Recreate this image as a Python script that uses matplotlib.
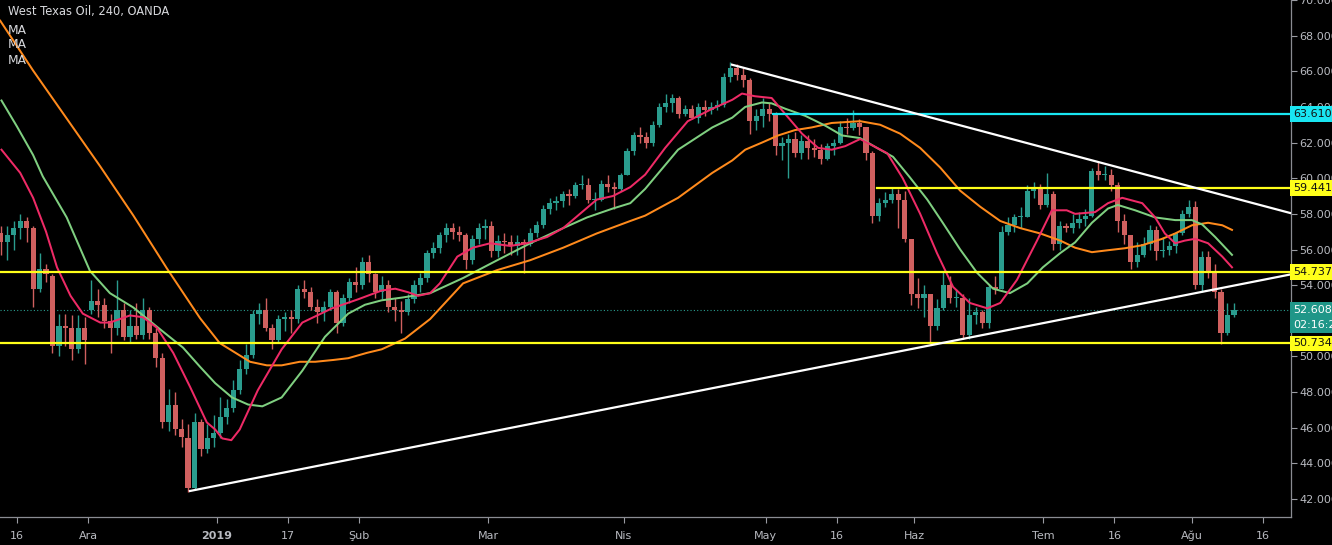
import matplotlib
matplotlib.use("Agg")
import matplotlib.pyplot as plt
import matplotlib.transforms as mtransforms
import numpy as np

# ---------------- data (daily, trading-day index; Nov 14 2018 = 0) ----------------
first_day = -1
opens = [56.9,56.4,56.8,57.2,57.6,57.2,53.8,54.9,54.5,50.6,51.7,51.6,50.4,51.6,
         52.6,53.1,52.9,52.0,51.6,52.6,51.1,51.7,51.2,52.6,51.3,49.9,46.3,47.3,45.9,
         45.4,42.6,46.3,44.8,45.4,45.7,46.6,47.1,48.1,49.3,50.1,52.4,52.6,51.6,50.9,
         52.1,52.2,52.1,53.8,53.6,52.8,52.5,52.8,53.6,51.9,53.3,54.2,54.0,55.3,54.6,
         53.6,54.0,52.8,52.6,52.5,53.2,54.0,54.4,55.8,56.1,56.8,57.2,57.0,56.8,55.4,
         56.6,57.2,57.3,55.9,56.5,56.4,56.2,56.4,56.3,56.9,57.4,58.3,58.6,58.7,59.1,
         59.0,59.6,59.6,58.8,58.8,59.7,59.5,59.4,60.2,61.5,62.4,62.3,62.0,63.0,64.0,
         64.2,64.5,63.6,63.9,63.4,64.0,63.8,64.0,64.1,65.7,66.2,65.8,65.5,63.2,63.5,
         63.9,63.6,61.8,62.0,62.2,61.4,62.1,61.7,61.6,61.1,61.8,62.0,62.9,62.8,63.1,
         62.9,61.4,57.9,58.6,58.8,59.1,58.8,56.6,53.5,53.3,53.5,51.7,52.7,54.0,53.3,
         53.3,51.2,52.3,52.5,51.9,53.9,53.8,57.0,57.4,57.8,57.8,59.3,59.4,58.5,59.1,
         56.3,57.3,57.2,57.5,57.7,57.9,60.4,60.2,60.2,59.6,57.6,56.8,55.3,55.7,56.3,
         57.1,55.9,56.0,56.2,56.9,58.0,58.4,54.0,55.6,54.7,53.6,51.3,52.3]
highs = [57.3,57.3,57.6,58.0,57.8,57.3,55.8,55.2,54.6,52.4,52.4,52.3,52.3,52.2,
         54.3,53.8,53.3,52.4,54.3,53.0,52.6,53.0,53.3,52.8,51.6,50.2,48.2,48.0,46.5,
         46.2,46.8,46.5,46.2,46.7,47.7,47.6,48.7,49.8,50.7,52.6,53.0,53.3,51.8,52.3,
         52.5,52.6,54.0,54.3,53.9,53.2,53.1,53.8,53.7,53.5,54.4,55.0,55.6,55.7,54.7,
         54.5,54.3,53.3,53.1,53.5,54.3,54.7,56.0,56.4,57.0,57.5,57.5,57.3,56.9,56.8,
         57.5,57.7,57.6,56.8,56.9,56.8,56.8,56.6,57.2,57.6,58.5,58.9,59.0,59.3,59.4,
         59.8,60.2,60.0,59.2,59.9,60.2,59.8,60.3,61.7,62.6,62.9,62.6,63.2,64.2,64.7,
         64.7,64.6,64.1,64.1,64.2,64.4,64.3,64.4,65.9,66.5,66.4,66.2,65.6,63.9,64.5,
         64.2,63.7,62.3,62.5,62.6,62.4,62.4,62.2,61.9,62.0,62.2,63.2,63.4,63.8,63.3,
         62.9,61.5,58.9,59.2,59.5,59.4,59.3,56.6,54.4,54.0,53.5,53.2,54.8,54.5,53.8,
         53.5,53.3,52.8,52.6,54.0,54.5,57.3,57.8,58.0,58.4,59.6,59.8,59.7,60.3,59.3,
         57.6,57.5,58.0,58.1,58.3,60.6,60.9,60.7,60.5,59.8,58.0,56.8,56.4,56.7,57.4,
         57.3,56.7,56.5,57.0,58.2,58.8,58.7,55.9,55.9,55.2,53.8,53.0,53.0]
lows = [55.7,55.4,56.0,56.6,56.4,52.8,53.6,54.2,50.2,50.0,50.6,49.8,50.2,49.6,
        52.4,52.2,51.6,50.2,51.2,50.9,50.8,51.0,51.0,51.0,49.4,46.0,45.8,45.6,44.9,
        42.4,42.5,44.4,44.6,44.9,45.4,46.2,46.9,47.9,49.0,49.9,51.8,51.4,50.4,50.8,
        51.4,51.3,51.9,53.3,52.6,51.9,52.0,52.6,51.3,51.7,53.0,53.6,53.8,54.2,53.3,
        53.2,52.5,52.0,51.3,52.3,53.0,53.6,54.2,55.5,55.8,56.4,56.6,56.5,54.9,55.2,
        56.3,56.6,55.6,55.6,55.8,55.7,55.7,54.7,56.2,56.7,57.2,58.0,58.2,58.4,58.5,
        58.9,59.4,58.6,58.2,58.7,59.2,58.3,59.3,60.2,61.3,62.0,61.7,61.8,62.9,63.7,
        63.7,63.4,63.5,63.3,63.1,63.5,63.6,63.8,64.0,65.4,65.5,65.1,62.5,62.7,62.9,
        63.2,61.3,61.0,60.0,61.2,61.1,61.1,61.2,60.8,61.0,61.3,61.9,62.5,62.7,62.4,
        61.0,57.5,57.6,58.4,58.6,57.2,56.4,52.9,52.7,52.2,50.7,51.5,52.6,53.0,52.8,
        51.0,51.0,51.8,51.6,51.6,53.5,53.8,56.8,57.0,57.2,57.8,58.9,58.3,58.4,56.0,
        56.0,57.0,56.9,57.2,57.3,57.8,59.9,59.9,59.3,57.0,56.3,54.9,55.0,55.6,56.0,
        55.4,55.6,55.7,55.8,56.8,57.8,53.8,53.6,54.4,53.3,50.7,51.2,52.2]
closes = [56.4,56.8,57.2,57.6,57.2,53.8,54.9,54.6,50.6,51.7,51.6,50.4,51.6,50.9,
          53.1,52.9,52.0,51.6,52.6,51.1,51.7,51.2,52.6,51.3,49.9,46.3,47.3,45.9,45.5,
          42.6,46.3,44.8,45.4,45.7,46.6,47.1,48.1,49.3,50.1,52.4,52.6,51.6,50.9,52.1,
          52.2,52.1,53.8,53.6,52.8,52.5,52.8,53.6,51.9,53.3,54.2,54.0,55.3,54.6,53.6,
          54.0,52.8,52.6,52.5,53.2,54.0,54.4,55.8,56.1,56.8,57.2,57.0,56.8,55.4,56.6,
          57.2,57.3,55.9,56.5,56.4,56.2,56.4,56.3,56.9,57.4,58.3,58.6,58.7,59.1,59.0,
          59.6,59.6,58.8,58.8,59.7,59.5,59.4,60.2,61.5,62.4,62.3,62.0,63.0,64.0,64.2,
          64.5,63.6,63.9,63.4,64.0,63.8,64.0,64.1,65.7,66.2,65.8,65.5,63.2,63.5,63.9,
          63.6,61.8,62.0,62.2,61.4,62.1,61.7,61.6,61.1,61.8,62.0,62.9,62.8,63.1,62.9,
          61.4,57.9,58.6,58.8,59.1,58.8,56.6,53.5,53.3,53.5,51.7,52.7,54.0,53.3,53.3,
          51.2,52.3,52.5,51.9,53.9,53.8,57.0,57.4,57.8,57.8,59.3,59.4,58.5,59.1,56.3,
          57.3,57.2,57.5,57.7,57.9,60.4,60.2,60.2,59.6,57.6,56.8,55.3,55.7,56.3,57.1,
          55.9,56.0,56.2,56.9,58.0,58.4,54.0,55.6,54.7,53.6,51.3,52.3,52.6]

# moving averages (trading-day position, price)
ma_red_x = [-0.4,2.5,4.5,6.5,8.2,10.3,12.2,14.9,16.4,19.5,21.5,23.7,26.2,28.8,31.4,32.7,33.8,
            35.2,36.5,39.3,43.0,46.2,50.8,54.8,58.5,60.6,62.6,64.1,66.0,67.5,70.2,72.6,75.3,
            78.4,81.0,84.1,86.6,89.2,91.8,94.3,97.0,99.3,102.4,105.9,109.7,112.8,114.3,116.3,
            118.9,121.0,123.6,126.1,128.2,130.3,132.6,136.8,139.2,141.9,144.5,147.0,149.6,
            152.3,154.3,156.9,160.0,162.3,164.6,165.9,169.0,171.0,173.2,176.3,178.3,179.8,
            181.4,182.9,184.5,186.5,188.7,190.2]
ma_red_y = [61.6,60.3,58.9,57.0,55.0,53.4,52.4,51.9,51.9,52.3,52.2,51.6,50.2,48.3,46.3,45.9,
            45.4,45.3,45.9,48.1,50.4,51.9,52.7,53.2,53.7,53.8,53.6,53.4,53.55,54.1,55.6,56.1,
            56.35,56.2,56.35,56.7,57.2,58.0,58.8,59.0,59.5,60.2,61.7,63.2,63.9,64.4,64.75,
            64.6,64.5,63.6,62.5,61.7,61.6,61.8,62.2,61.4,60.0,58.0,55.8,53.9,53.0,52.7,
            53.0,54.3,56.5,58.2,58.2,58.0,58.1,58.6,58.9,58.6,57.8,56.9,56.35,
            56.5,56.6,56.35,55.6,55.0]
ma_green_x = [-0.4,2.0,4.5,6.0,9.7,13.3,16.4,20.0,23.9,27.7,30.4,32.7,35.3,37.8,40.0,43.0,46.2,
              49.7,53.3,55.9,58.5,61.6,66.0,71.1,76.4,81.5,86.6,90.3,94.3,97.0,99.3,104.4,
              109.7,112.8,114.8,117.4,118.9,121.0,124.1,127.2,129.8,132.6,135.2,137.7,140.3,
              143.0,145.4,148.1,150.7,153.2,155.8,158.5,160.9,163.6,165.9,168.5,171.0,172.5,
              175.2,178.3,181.4,184.0,185.6,187.6,190.2]
ma_green_y = [64.36,62.9,61.3,60.1,57.8,54.8,53.55,52.75,51.6,50.5,49.4,48.5,47.7,47.3,47.2,47.7,
              49.2,51.1,52.4,52.9,53.15,53.3,53.55,54.4,55.4,56.35,57.2,57.8,58.3,58.6,59.4,
              61.6,62.85,63.4,64.0,64.25,64.2,63.9,63.5,62.95,62.4,62.25,61.7,61.2,60.05,
              58.8,57.5,56.0,54.7,53.8,53.55,54.1,55.0,55.8,56.4,57.5,58.3,58.5,
              58.2,57.8,57.65,57.65,57.4,56.7,55.7]
ma_orange_x = [-0.6,4.5,9.7,14.9,20.0,25.2,30.35,33.4,38.1,40.7,43.0,45.8,48.2,50.95,53.3,
               56.2,58.5,62.1,66.0,71.1,76.35,81.5,86.6,91.8,97.0,99.3,104.4,109.7,112.8,
               114.8,117.4,119.9,122.5,125.1,128.2,132.6,135.7,138.8,141.9,145.0,148.1,151.2,
               154.3,157.4,160.5,163.6,165.9,168.5,171.0,173.6,176.3,179.4,181.4,184.0,186.5,
               188.7,190.2]
ma_orange_y = [68.84,66.04,63.35,60.66,57.92,54.95,52.15,50.75,49.7,49.5,49.5,49.7,49.7,49.8,
               49.9,50.2,50.4,51.0,52.1,54.1,54.84,55.4,56.1,56.9,57.6,57.9,58.9,60.3,61.0,
               61.6,62.0,62.4,62.7,62.85,63.1,63.2,63.0,62.5,61.7,60.6,59.3,58.4,
               57.6,57.2,56.9,56.5,56.1,55.85,55.96,56.07,56.24,56.6,56.9,57.36,57.5,
               57.36,57.1]

# drawn levels and trend lines
support_lines = [54.737, 50.734]
resist_level, resist_start = 59.441, 135.2
cyan_level, cyan_start = 63.610, 119.1
last_price = 52.608
countdown = "02:16:21"
lower_trend_x, lower_trend_y = [28.8, 199.4], [42.45, 54.61]
upper_trend_x, upper_trend_y = [112.75, 199.4], [66.37, 58.03]

tick_days = [2, 13, 33, 44, 55, 75, 96, 118, 129, 141, 161, 172, 184, 195]
tick_labels = ["16", "Ara", "2019", "17", "Şub", "Mar", "Nis", "May", "16", "Haz",
               "Tem", "16", "Ağu", "16"]
y_ticks = list(range(42, 71, 2))

# ---------------- figure ----------------
W, H = 1332, 545
fig = plt.figure(figsize=(W / 100, H / 100), dpi=100, facecolor="black")
ax = fig.add_axes([0, 28 / H, 1291 / W, 517 / H], facecolor="black")

xlim = (-0.63, 199.34)
ax.set_xlim(*xlim)
ax.set_ylim(40.99, 69.96)

o = np.array(opens); h = np.array(highs); l = np.array(lows); c = np.array(closes)
x = np.arange(len(o)) + first_day + 0.5
up = c >= o
up_col, dn_col = "#2a9c8e", "#d0605f"
cols = np.where(up, up_col, dn_col)
ax.vlines(x, l, h, colors=cols, linewidth=1.0, zorder=2)
body_low = np.minimum(o, c)
body_h = np.maximum(np.abs(c - o), 0.06)
ax.bar(x, body_h, bottom=body_low, width=0.8, color=cols, linewidth=0, zorder=2)

# moving averages
ax.plot(ma_orange_x, ma_orange_y, color="#ff8a1c", lw=1.45, zorder=3, solid_joinstyle="round")
ax.plot(ma_green_x, ma_green_y, color="#7fcf80", lw=1.45, zorder=3, solid_joinstyle="round")
ax.plot(ma_red_x, ma_red_y, color="#ee2a66", lw=1.45, zorder=3, solid_joinstyle="round")

# horizontal levels
for lv in support_lines:
    ax.axhline(lv, color="#ffff1a", lw=1.6, zorder=4)
ax.plot([resist_start, xlim[1]], [resist_level] * 2, color="#ffff1a", lw=1.6, zorder=4)
ax.plot([cyan_start, xlim[1]], [cyan_level] * 2, color="#19e6f2", lw=1.6, zorder=4)
ax.axhline(last_price, color="#2a9d8f", lw=0.8, ls=(0, (1, 2)), zorder=1)

# trend lines
ax.plot(lower_trend_x, lower_trend_y, color="white", lw=1.6, zorder=5)
ax.plot(upper_trend_x, upper_trend_y, color="white", lw=1.6, zorder=5)

# axes styling
ax.yaxis.tick_right()
ax.set_yticks(y_ticks)
ax.set_yticklabels([f"{v:.3f}" for v in y_ticks])
ax.set_xticks(tick_days)
ax.set_xticklabels(tick_labels)
for lab in ax.get_xticklabels():
    if lab.get_text() == "2019":
        lab.set_fontweight("bold")
ax.tick_params(axis="y", colors="#9a9ca3", labelcolor="#b8bac0", labelsize=8,
               length=4, width=0.8, pad=2, direction="out")
ax.tick_params(axis="x", colors="#9a9ca3", labelcolor="#b8bac0", labelsize=8,
               length=4, width=0.8, pad=6, direction="out")
for sp in ["top", "left"]:
    ax.spines[sp].set_visible(False)
ax.spines["right"].set_color("#8a8c92")
ax.spines["bottom"].set_color("#8a8c92")
ax.spines["right"].set_linewidth(0.9)
ax.spines["bottom"].set_linewidth(0.9)

# price labels on the axis
trans = mtransforms.blended_transform_factory(ax.transAxes, ax.transData)
def price_box(val, fc, tc):
    ax.text(1.0015, val, f"{val:.3f}", transform=trans, ha="left",
            va="center", fontsize=8, color=tc, clip_on=False, zorder=10,
            bbox=dict(boxstyle="square,pad=0.25", fc=fc, ec="none"))

price_box(cyan_level, "#19e6f2", "#111111")
price_box(resist_level, "#ffff1a", "#111111")
price_box(support_lines[0], "#ffff1a", "#111111")
price_box(support_lines[1], "#ffff1a", "#111111")
ax.text(1.0015, last_price + 0.25, f"{last_price:.3f}\n{countdown}", transform=trans,
        ha="left", va="top", fontsize=8, color="white", clip_on=False, zorder=10,
        linespacing=1.55, bbox=dict(boxstyle="square,pad=0.3", fc="#1f9688", ec="none"))

# header text
fig.text(8 / W, 1 - 12 / H, "West Texas Oil, 240, OANDA", color="#d8d9dd", fontsize=8.3,
         va="center", ha="left")
for k in range(3):
    fig.text(8 / W, 1 - (30 + 15 * k) / H, "MA", color="#d8d9dd", fontsize=8.8,
             va="center", ha="left")

fig.savefig("out.png", dpi=100, facecolor="black")
